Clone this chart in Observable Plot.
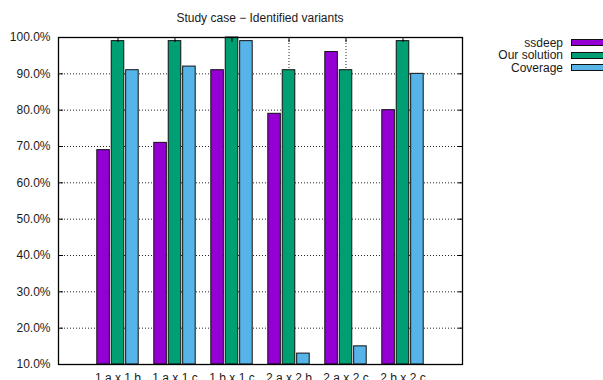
<!DOCTYPE html>
<html>
<head>
<meta charset="utf-8">
<script src="https://cdn.jsdelivr.net/npm/d3@7"></script>
<script src="https://cdn.jsdelivr.net/npm/@observablehq/plot@0.6"></script>
<style>
  html, body { margin: 0; padding: 0; background: white; }
  #wrap { position: relative; width: 603px; height: 380px; overflow: hidden; font-family: "Liberation Sans", Arial, sans-serif; }
  #title { position: absolute; left: 58px; width: 404px; top: 11px; text-align: center; font-size: 12px; color: #1a1a1a; }
  #legend { position: absolute; right: -2px; top: 36.8px; font-size: 12px; color: #1a1a1a; }
  .row { display: flex; align-items: center; justify-content: flex-end; height: 12.4px; }
  .row span { display: block; height: 12.4px; line-height: 12.4px; overflow: visible; }
  .sw { width: 32px; height: 5px; border: 1px solid #111; margin-left: 8px; }
</style>
</head>
<body>
<div id="wrap">
  <div id="chart"></div>
  <div id="title"></div>
  <div id="legend"></div>
</div>
<script>
const title = "Study case \u2212 Identified variants";
const categories = ["1.a x 1.b", "1.a x 1.c", "1.b x 1.c", "2.a x 2.b", "2.a x 2.c", "2.b x 2.c"];
const seriesNames = ["ssdeep", "Our solution", "Coverage"];
const ssdeep      = [69, 71, 91, 79, 96, 80];
const ourSolution = [99, 99, 100, 91, 91, 99];
const coverage    = [91, 92, 99, 13, 15, 90];
const yTicks = [10, 20, 30, 40, 50, 60, 70, 80, 90, 100];
const colors = ["#9400d3", "#009e73", "#56b4e9"];

const seriesValues = [ssdeep, ourSolution, coverage];
const rows = categories.map((c, i) => ({cat: c, v: seriesValues.map(s => s[i])}));

const W = 603, H = 380, mL = 58, mR = 141, mT = 37, mB = 16;
const pInner = 0.25, pOuter = 0.625;
const step = (W - mL - mR) / (categories.length - pInner + 2 * pOuter);
const bw = step * (1 - pInner);
const third = bw / 3;

const bars = seriesNames.map((name, j) =>
  Plot.barY(rows, {
    x: "cat",
    y1: () => yTicks[0],
    y2: d => d.v[j],
    fill: colors[j],
    stroke: "#111",
    strokeWidth: 1,
    insetLeft: j * third + 0.8,
    insetRight: (2 - j) * third + 0.8
  })
);

const chart = Plot.plot({
  width: W, height: H,
  marginLeft: mL, marginRight: mR, marginTop: mT, marginBottom: mB,
  style: {fontFamily: "Liberation Sans, Arial, sans-serif", fontSize: "12px", color: "#1a1a1a", background: "white"},
  x: {type: "band", domain: categories, paddingInner: pInner, paddingOuter: pOuter, align: 0.5},
  y: {type: "linear", domain: [yTicks[0], yTicks[yTicks.length - 1]]},
  marks: [
    Plot.gridY(yTicks, {stroke: "#000", strokeOpacity: 0.85, strokeDasharray: "1,2", strokeWidth: 1}),
    Plot.gridX(categories, {stroke: "#000", strokeOpacity: 0.85, strokeDasharray: "1,2", strokeWidth: 1}),
    ...bars,
    Plot.axisY(yTicks, {anchor: "left", tickSize: 0, tickPadding: 8, tickFormat: d => d.toFixed(1) + "%", label: null, fill: "#1a1a1a", fontSize: 12}),
    Plot.axisY(yTicks, {anchor: "left", tickSize: -5, tickFormat: () => "", label: null, stroke: "#000"}),
    Plot.axisY(yTicks, {anchor: "right", tickSize: -5, tickFormat: () => "", label: null, stroke: "#000"}),
    Plot.axisX(categories, {anchor: "bottom", tickSize: 0, tickPadding: 9, label: null, fill: "#1a1a1a", fontSize: 12}),
    Plot.axisX(categories, {anchor: "top", tickSize: -4, tickFormat: () => "", label: null, stroke: "#000"}),
    Plot.frame({stroke: "#000", strokeWidth: 1.3})
  ]
});
document.getElementById("chart").appendChild(chart);
document.getElementById("title").textContent = title;

const legend = document.getElementById("legend");
seriesNames.forEach((name, j) => {
  const r = document.createElement("div");
  r.className = "row";
  const t = document.createElement("span");
  t.textContent = name;
  const s = document.createElement("div");
  s.className = "sw";
  s.style.background = colors[j];
  r.appendChild(t); r.appendChild(s);
  legend.appendChild(r);
});
</script>
</body>
</html>
